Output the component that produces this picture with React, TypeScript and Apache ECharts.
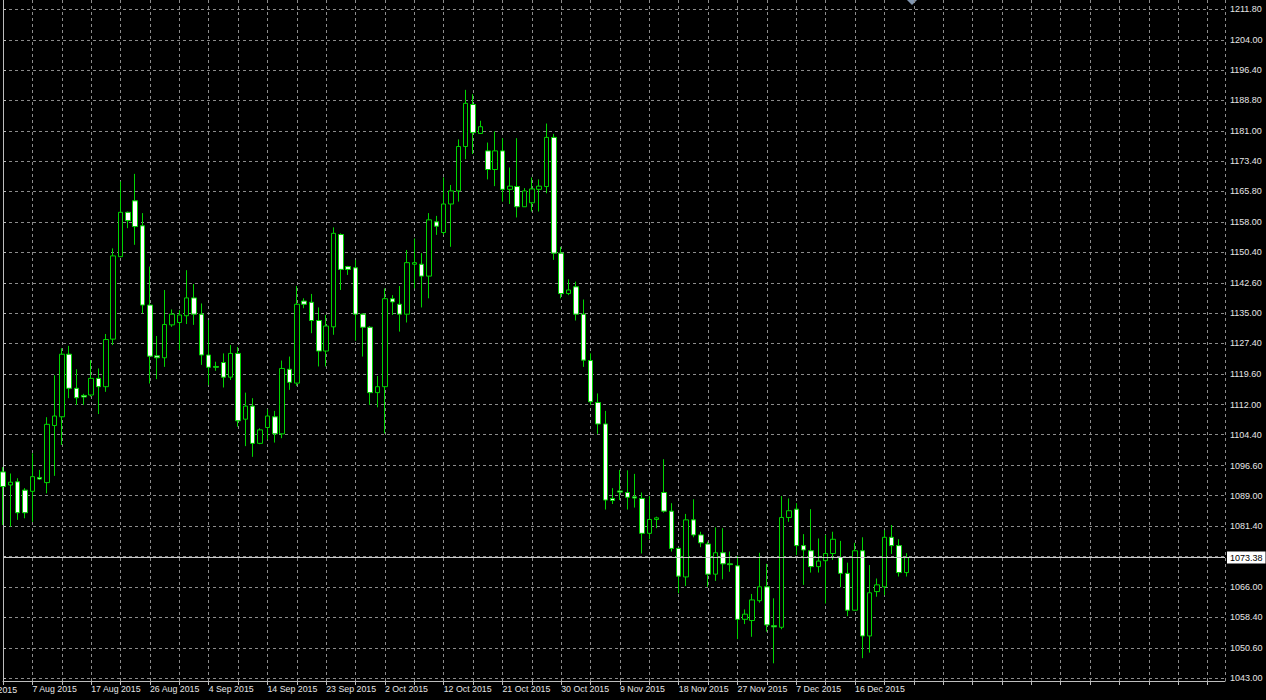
import React, { useEffect, useRef } from "react";
import * as echarts from "echarts";

// Daily bars (broker feed with Sunday bars), index 0 = 3 Aug 2015 ... 123 = 24 Dec 2015
const openP = [
  1095.0, 1091.7, 1092.5, 1090.4, 1090.1, 1093.6, 1092.3, 1106.7, 1108.9, 1124.7,
  1116.1, 1114.3, 1114.4, 1118.6, 1116.5, 1128.5, 1149.3, 1160.5, 1163.4, 1157.1,
  1137.1, 1124.3, 1123.8, 1132.1, 1132.7, 1134.4, 1138.9, 1134.8, 1124.5, 1121.6,
  1122.6, 1118.9, 1124.9, 1108.3, 1111.6, 1102.2, 1106.2, 1108.9, 1104.6, 1120.9,
  1117.4, 1138.1, 1137.8, 1133.2, 1125.5, 1131.6, 1154.9, 1146.8, 1146.5, 1134.8,
  1131.5, 1115.0, 1116.5, 1138.7, 1137.3, 1134.8, 1147.4, 1147.4, 1144.4, 1158.1,
  1155.4, 1162.6, 1165.9, 1177.1, 1187.7, 1180.4, 1176.0, 1171.3, 1176.0, 1166.3,
  1167.0, 1161.9, 1162.9, 1166.3, 1167.0, 1179.4, 1150.2, 1140.0, 1141.7, 1134.8,
  1123.1, 1112.5, 1107.1, 1088.3, 1090.2, 1089.8, 1088.7, 1088.3, 1079.5, 1083.0,
  1089.8, 1085.1, 1075.7, 1068.5, 1082.9, 1079.1, 1076.8, 1069.2, 1074.6, 1071.8,
  1071.3, 1057.8, 1057.5, 1062.5, 1066.0, 1056.2, 1055.8, 1083.5, 1085.6, 1076.4,
  1075.1, 1071.1, 1072.6, 1074.4, 1073.4, 1069.4, 1060.1, 1075.1, 1053.6, 1064.8,
  1066.0, 1078.5, 1076.4, 1069.6,
];
const closeP = [
  1091.3, 1092.4, 1084.7, 1084.7, 1093.8, 1093.2, 1107.0, 1109.1, 1124.7, 1116.1,
  1113.7, 1113.9, 1118.6, 1116.5, 1128.4, 1149.5, 1160.5, 1158.4, 1156.9, 1137.1,
  1124.2, 1123.8, 1132.2, 1134.8, 1134.6, 1138.9, 1134.8, 1124.5, 1121.4, 1121.4,
  1118.9, 1124.9, 1107.9, 1111.6, 1102.2, 1105.6, 1109.1, 1104.6, 1121.1, 1117.6,
  1137.3, 1137.3, 1133.2, 1125.5, 1131.8, 1155.2, 1146.1, 1146.1, 1134.8, 1131.5,
  1115.0, 1116.5, 1138.7, 1137.9, 1134.8, 1147.8, 1147.8, 1144.4, 1158.6, 1157.0,
  1162.6, 1165.9, 1177.1, 1188.0, 1180.6, 1182.1, 1171.3, 1176.0, 1166.3, 1167.1,
  1161.9, 1165.9, 1166.4, 1167.1, 1179.4, 1150.2, 1140.0, 1140.9, 1134.8, 1123.2,
  1112.7, 1107.1, 1087.9, 1087.8, 1089.9, 1088.6, 1088.4, 1079.5, 1083.0, 1083.4,
  1085.1, 1075.7, 1068.7, 1082.9, 1079.1, 1077.1, 1069.2, 1074.6, 1071.8, 1071.6,
  1057.8, 1059.1, 1062.7, 1066.0, 1056.4, 1055.9, 1083.5, 1085.2, 1076.4, 1075.3,
  1071.1, 1072.5, 1074.4, 1078.0, 1069.4, 1060.1, 1075.1, 1053.6, 1064.5, 1066.5,
  1078.5, 1076.4, 1069.6, 1073.38,
];
const lowP = [
  1081.6, 1081.2, 1082.9, 1083.3, 1082.4, 1093.0, 1089.6, 1094.0, 1101.8, 1113.6,
  1111.9, 1111.9, 1114.0, 1109.6, 1115.2, 1127.0, 1149.2, 1156.5, 1152.3, 1135.0,
  1117.3, 1118.4, 1121.5, 1131.6, 1125.8, 1132.3, 1132.1, 1122.0, 1116.9, 1120.5,
  1116.3, 1118.2, 1106.4, 1101.5, 1098.8, 1102.0, 1103.2, 1102.4, 1103.5, 1115.7,
  1116.7, 1136.3, 1130.0, 1121.6, 1121.6, 1129.6, 1140.9, 1144.7, 1128.1, 1124.1,
  1111.9, 1111.3, 1104.7, 1134.6, 1130.4, 1132.7, 1141.3, 1136.5, 1138.8, 1154.8,
  1154.8, 1151.8, 1163.2, 1173.9, 1175.2, 1180.3, 1168.8, 1167.1, 1163.2, 1162.6,
  1159.2, 1161.9, 1160.7, 1160.7, 1165.3, 1148.5, 1138.8, 1139.6, 1133.2, 1121.5,
  1111.9, 1104.6, 1085.5, 1086.9, 1087.9, 1085.5, 1086.0, 1074.4, 1078.0, 1080.8,
  1084.7, 1074.9, 1064.4, 1066.2, 1078.5, 1076.0, 1066.0, 1067.5, 1067.9, 1069.8,
  1052.8, 1056.6, 1053.4, 1062.0, 1054.7, 1046.7, 1055.3, 1082.4, 1074.0, 1066.5,
  1069.6, 1069.6, 1061.8, 1072.8, 1065.9, 1058.6, 1060.0, 1048.0, 1049.4, 1063.5,
  1063.9, 1074.3, 1068.6, 1068.6,
];
const highP = [
  1096.2, 1094.6, 1093.4, 1090.9, 1099.7, 1095.5, 1108.8, 1119.4, 1126.2, 1126.8,
  1120.9, 1114.7, 1123.2, 1121.1, 1129.8, 1151.4, 1168.3, 1160.7, 1170.2, 1160.3,
  1146.8, 1129.3, 1140.9, 1136.0, 1135.8, 1145.9, 1142.4, 1137.5, 1133.3, 1122.8,
  1124.9, 1127.0, 1126.5, 1115.0, 1113.6, 1106.0, 1110.8, 1110.4, 1123.1, 1124.1,
  1141.9, 1138.8, 1139.9, 1136.5, 1134.6, 1156.7, 1155.2, 1147.0, 1148.5, 1135.0,
  1131.8, 1119.2, 1141.3, 1139.6, 1141.9, 1151.0, 1153.9, 1150.2, 1160.3, 1159.6,
  1169.3, 1167.4, 1178.9, 1191.4, 1190.3, 1183.6, 1178.1, 1180.9, 1179.2, 1171.8,
  1179.2, 1166.6, 1169.3, 1168.8, 1182.9, 1180.3, 1151.8, 1143.6, 1143.0, 1138.5,
  1124.9, 1114.8, 1110.4, 1090.9, 1095.5, 1095.4, 1094.5, 1089.8, 1088.9, 1083.7,
  1098.2, 1087.1, 1075.9, 1084.4, 1088.1, 1079.9, 1077.4, 1081.0, 1080.8, 1074.9,
  1073.8, 1060.3, 1064.2, 1074.6, 1071.8, 1063.1, 1088.9, 1088.3, 1087.1, 1079.3,
  1085.6, 1078.2, 1079.1, 1079.9, 1077.6, 1072.1, 1077.1, 1078.5, 1071.5, 1068.1,
  1080.3, 1081.6, 1078.0, 1074.5,
];

const lastPrice = 1073.38;

// price-axis tick labels (MT4 rounded grid levels)
const yTickLabels = [
  "1043.00", "1050.60", "1058.40", "1066.00", "1081.40", "1089.00", "1096.60",
  "1104.40", "1112.00", "1119.60", "1127.40", "1135.00", "1142.60", "1150.40",
  "1158.00", "1165.80", "1173.40", "1181.00", "1188.80", "1196.40", "1204.00", "1211.80",
];
const yHiddenGridLevels = [1073.8];

// time-axis labels and the bar index they belong to
const xTickLabels = [
  "29 Jul 2015", "7 Aug 2015", "17 Aug 2015", "26 Aug 2015", "4 Sep 2015", "14 Sep 2015",
  "23 Sep 2015", "2 Oct 2015", "12 Oct 2015", "21 Oct 2015", "30 Oct 2015", "9 Nov 2015",
  "18 Nov 2015", "27 Nov 2015", "7 Dec 2015", "16 Dec 2015",
];
const xTickIndex = [-4, 4, 12, 20, 28, 36, 44, 52, 60, 68, 76, 84, 92, 100, 108, 116];

const GREEN = "#00d400";
const GRID = "#8c8c8c";
const TEXT = "#e6e6e6";
const FONT = "'Liberation Sans', Arial, sans-serif";

export default function App() {
  const ref = useRef<HTMLDivElement>(null);

  useEffect(() => {
    if (!ref.current) return;
    const chart = echarts.init(ref.current, null, { renderer: "svg" });

    const data = openP.map((o, i) => [i, o, closeP[i], lowP[i], highP[i]]);
    const labelMap: Record<number, string> = {};
    xTickIndex.forEach((ix, k) => (labelMap[ix] = xTickLabels[k]));
    const yLabelVals = yTickLabels.map((s) => parseFloat(s));
    const yGridVals = yLabelVals.concat(yHiddenGridLevels).sort((a, b) => a - b);

    const plotW = 1225;
    const pxPerBar = 7.363;
    const marker = {
      type: "polygon",
      shape: { points: [[907, 0], [917, 0], [912, 5]] },
      style: { fill: "#8296b0" },
      silent: true,
    };

    chart.setOption({
      animation: false,
      backgroundColor: "#000000",
      textStyle: { fontFamily: FONT },
      grid: { left: 0, right: 1266 - plotW, top: 0, bottom: 19, containLabel: false },
      xAxis: {
        type: "value",
        min: 0,
        max: plotW / pxPerBar,
        interval: 4,
        axisLine: { show: true, lineStyle: { color: "#bdbdbd", width: 1 } },
        axisTick: { show: true, length: 4, lineStyle: { color: "#bdbdbd" } },
        axisLabel: {
          show: true,
          color: TEXT,
          fontSize: 8.8,
          fontFamily: FONT,
          align: "left",
          margin: 3,
          showMinLabel: true,
          showMaxLabel: false,
          hideOverlap: false,
          formatter: (v: number) => labelMap[Math.round(v)] ?? "",
        },
        splitLine: { show: true, lineStyle: { color: GRID, width: 1, type: [3, 3] } },
      },
      yAxis: {
        type: "value",
        position: "right",
        min: 1042.24,
        max: 1214.07,
        scale: true,
        axisLine: { show: true, lineStyle: { color: "#bdbdbd", width: 1 } },
        axisTick: { show: true, length: 3, customValues: yGridVals, lineStyle: { color: "#bdbdbd" } },
        axisLabel: {
          show: true,
          customValues: yLabelVals,
          color: TEXT,
          fontSize: 9,
          fontFamily: FONT,
          margin: 5,
          formatter: (v: number) => v.toFixed(2),
        },
        splitLine: { show: true, lineStyle: { color: GRID, width: 1, type: [3, 3] } },
      },
      graphic: [marker],
      series: [
        {
          type: "candlestick",
          data,
          barWidth: 5,
          clip: true,
          itemStyle: {
            color: "#000000",
            color0: "#ffffff",
            borderColor: GREEN,
            borderColor0: GREEN,
            borderColorDoji: GREEN,
            borderWidth: 1,
          },
          markLine: {
            silent: true,
            symbol: ["none", "none"],
            animation: false,
            lineStyle: { color: "#c8c8c8", type: "solid", width: 1 },
            label: {
              show: true,
              position: "end",
              distance: 2,
              formatter: lastPrice.toFixed(2),
              backgroundColor: "#ffffff",
              color: "#000000",
              fontSize: 9,
              fontFamily: FONT,
              padding: [2, 3, 1, 3],
            },
            data: [{ yAxis: lastPrice }],
          },
        },
      ],
    });

    // label of the grid line that lies left of the first visible bar (partly off the left edge)
    const px = chart.convertToPixel({ xAxisIndex: 0 }, xTickIndex[0]) as number;
    chart.setOption({
      graphic: [
        marker,
        {
          type: "text",
          x: px - 2,
          y: 685,
          silent: true,
          style: { text: xTickLabels[0], fill: TEXT, fontSize: 8.8, fontFamily: FONT },
        },
      ],
    });

    return () => chart.dispose();
  }, []);

  return (
    <div
      ref={ref}
      style={{ position: "fixed", left: 0, top: 0, width: 1266, height: 700, background: "#000" }}
    />
  );
}
